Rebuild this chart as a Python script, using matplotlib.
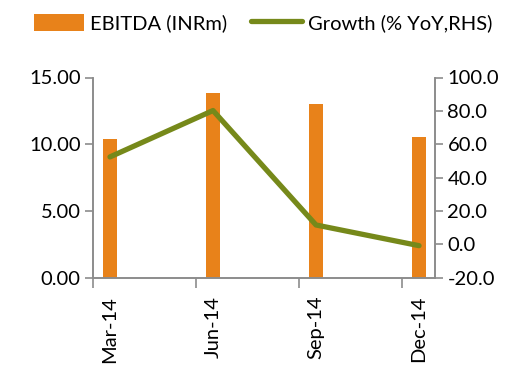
import numpy as np
import matplotlib.pyplot as plt
from matplotlib.lines import Line2D
from matplotlib.patches import Patch

plt.rcParams['font.family'] = ['Lato', 'DejaVu Sans']

quarters = ["Mar-14", "Jun-14", "Sep-14", "Dec-14"]
ebitda = [10.40, 13.85, 13.03, 10.55]
growth = [52.4, 80.2, 11.6, -0.8]

orange = "#E8821A"
green = "#76891A"
grey = "#8C8C8C"
fs = 14.5

fig = plt.figure(figsize=(5.17, 3.67), dpi=100)
ax = fig.add_axes([93/517, 89.3/367, 342/517, 200.2/367])
ax2 = ax.twinx()

x = np.arange(len(quarters))
ax.bar(x, ebitda, width=0.135, color=orange, zorder=1)
ax2.plot(x, growth, color=green, lw=3.8, solid_capstyle="round", zorder=3)

ax.set_xlim(-0.165, 3.155)
ax.set_ylim(0, 15)
ax2.set_ylim(-20, 100)
ax.set_yticks([0, 5, 10, 15])
ax.set_yticklabels(["%.2f" % v for v in [0, 5, 10, 15]])
ax2.set_yticks(np.arange(-20, 101, 20))
ax2.set_yticklabels(["%.1f" % v for v in np.arange(-20, 101, 20)])

ax.set_xticks(x)
ax.set_xticklabels(quarters, rotation=90)
ax.set_xticks(x - 0.165, minor=True)
ax.tick_params(axis="x", which="major", length=0, pad=13, labelsize=fs)
ax.tick_params(axis="x", which="minor", length=7, color=grey, width=1.2)
ax.tick_params(axis="y", length=6, color=grey, width=1.2, labelsize=fs, pad=3)
ax2.tick_params(axis="y", length=6, color=grey, width=1.2, labelsize=fs, pad=3)

for a in (ax, ax2):
    a.spines["top"].set_visible(False)
    for s in ("left", "right", "bottom"):
        a.spines[s].set_color(grey)
        a.spines[s].set_linewidth(1.2)
ax.set_zorder(0)
ax2.set_zorder(1)
ax2.patch.set_visible(False)

handles = [Patch(facecolor=orange, edgecolor="none"),
           Line2D([0], [0], color=green, lw=3.8, solid_capstyle="round")]
fig.legend(handles, ["EBITDA (INRm)", "Growth (% YoY,RHS)"],
           loc="center", bbox_to_anchor=(263/517, 1 - 23/367), ncol=2,
           frameon=False, fontsize=fs, handlelength=2.5, handletextpad=0.3,
           columnspacing=1.2, handleheight=0.9, borderpad=0)

fig.savefig("out.png", dpi=100)
